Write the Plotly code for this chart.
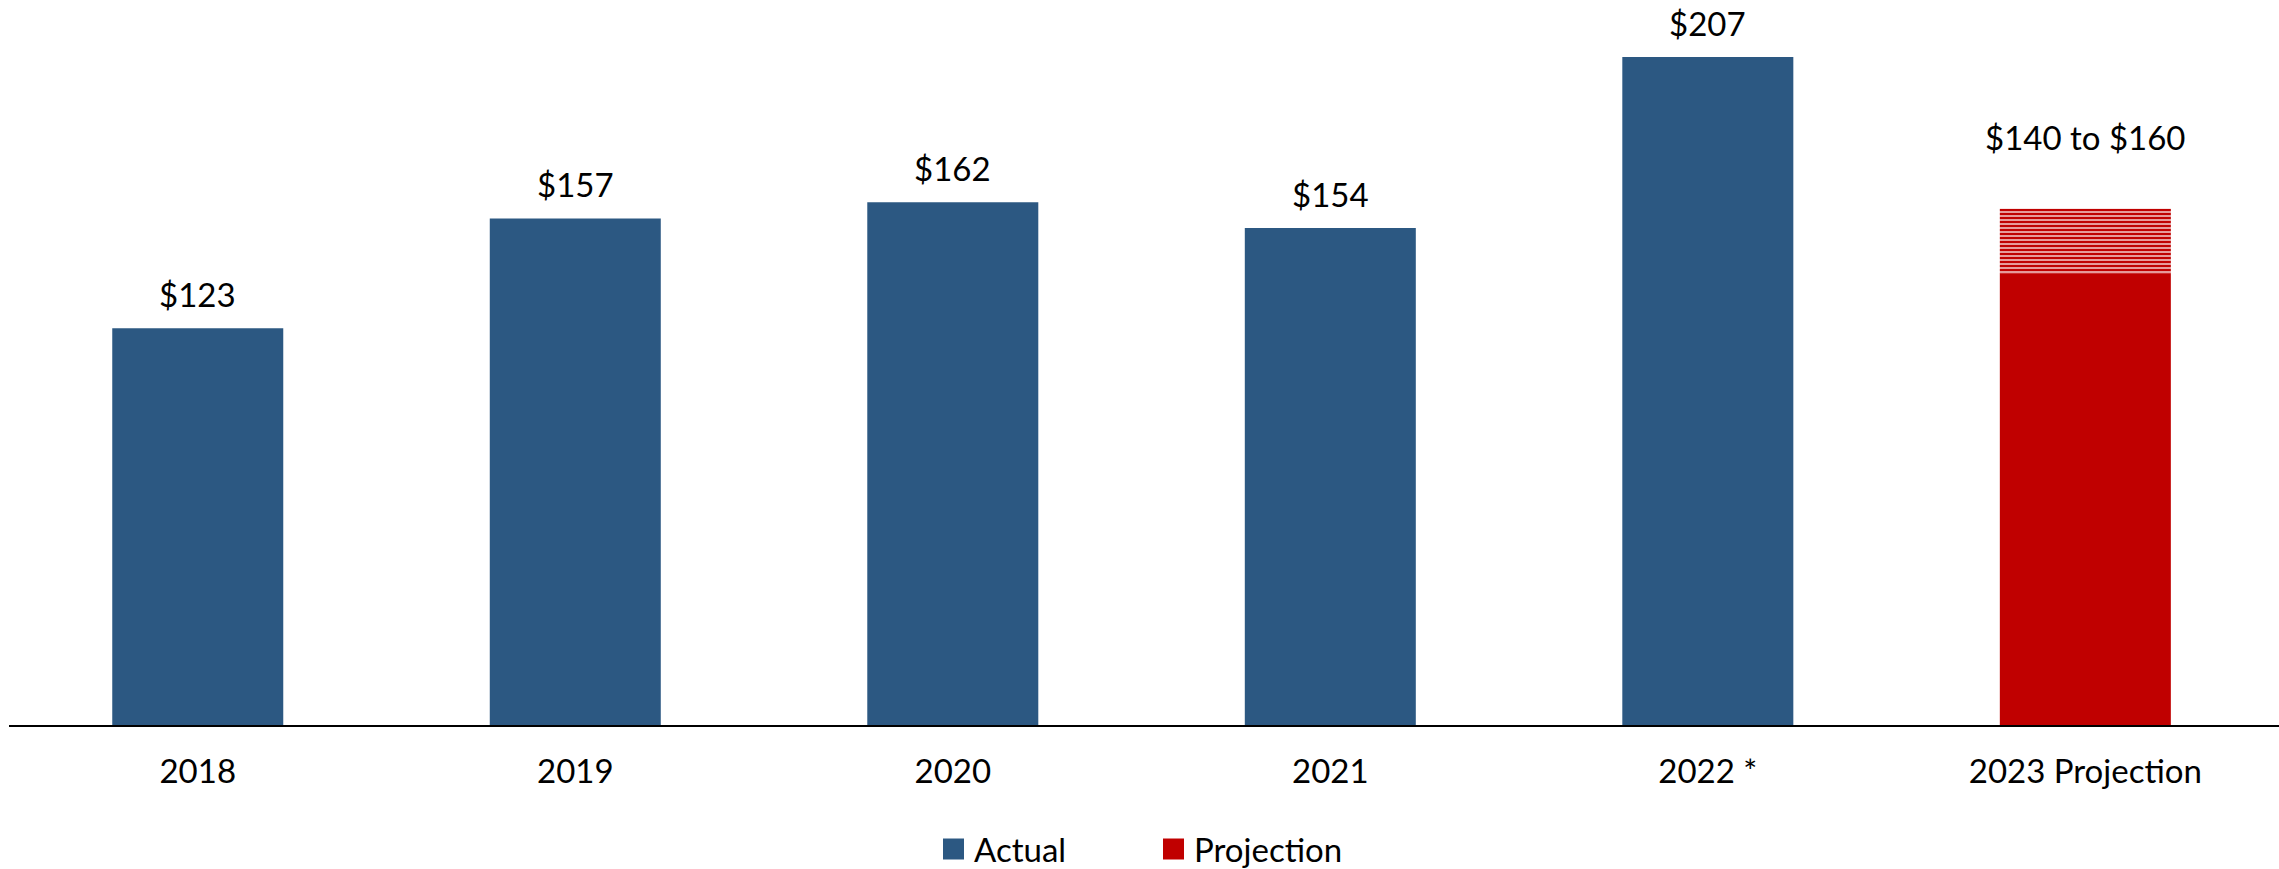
import plotly.graph_objects as go

# Annual values (in $ millions)
categories = ["2018", "2019", "2020", "2021", "2022 *", "2023 Projection"]
actual_values = [123, 157, 162, 154, 207]
projection_low = 140
projection_high = 160

BLUE = "#2C5882"
RED = "#C00000"
FONT = "Lato"
FSIZE = 33
BAR_W = 0.453

W, H = 2279, 869
M_L, M_R, M_T, M_B = 9, 0, 0, 144
plot_w = W - M_L - M_R
plot_h = H - M_T - M_B

fig = go.Figure()

# Actual bars
fig.add_trace(go.Bar(
    x=categories[:len(actual_values)], y=actual_values,
    marker=dict(color=BLUE, line=dict(width=0)),
    width=BAR_W, name="Actual", showlegend=False,
))

# Projection: solid lower bound
fig.add_trace(go.Bar(
    x=[categories[-1]], y=[projection_low],
    marker=dict(color=RED, line=dict(width=0)),
    width=BAR_W, name="Projection", showlegend=False,
))

# Projection: striped range between low and high
fig.add_trace(go.Bar(
    x=[categories[-1]], y=[projection_high - projection_low], base=[projection_low],
    marker=dict(color="white", line=dict(width=0),
                pattern=dict(shape="-", fgcolor=RED, fgopacity=1,
                             size=4, solidity=0.7, fillmode="overlay")),
    width=BAR_W, name="Projection range", showlegend=False,
))

# Value labels (category axis positions given by index)
annotations = []
for i, val in enumerate(actual_values):
    annotations.append(dict(
        x=i, y=val, text=f"${val}", showarrow=False,
        xref="x", yref="y", yanchor="bottom", yshift=12,
        font=dict(family=FONT, size=FSIZE, color="black"),
    ))
annotations.append(dict(
    x=len(categories) - 1, y=projection_high,
    text=f"${projection_low} to ${projection_high}", showarrow=False,
    xref="x", yref="y", yanchor="bottom", yshift=50,
    font=dict(family=FONT, size=FSIZE, color="black"),
))

# Legend drawn as swatches + text below the axis
legend_items = [("Actual", BLUE, 943), ("Projection", RED, 1163)]
legend_cy = 849
shapes = []
for label, color, px in legend_items:
    x0 = (px - M_L) / plot_w
    x1 = (px + 21 - M_L) / plot_w
    yc = -(legend_cy - (M_T + plot_h)) / plot_h
    dy = 10.5 / plot_h
    shapes.append(dict(type="rect", xref="paper", yref="paper",
                       x0=x0, x1=x1, y0=yc - dy, y1=yc + dy,
                       fillcolor=color, line=dict(width=0)))
    annotations.append(dict(
        x=(px + 29 - M_L) / plot_w, y=yc, xref="paper", yref="paper",
        text=label, showarrow=False, xanchor="left", yanchor="middle",
        font=dict(family=FONT, size=FSIZE, color="black"),
    ))

fig.update_layout(
    width=W, height=H,
    margin=dict(l=M_L, r=M_R, t=M_T, b=M_B, pad=0),
    paper_bgcolor="white", plot_bgcolor="white",
    barmode="overlay",
    showlegend=False,
    annotations=annotations,
    shapes=shapes,
    xaxis=dict(
        type="category", range=[-0.5, 5.513],
        showline=True, linecolor="black", linewidth=2,
        showgrid=False, zeroline=False, ticks="",
        tickfont=dict(family=FONT, size=FSIZE, color="black"),
        ticklabelstandoff=16,
    ),
    yaxis=dict(
        range=[0, 224.7], visible=False, showgrid=False, zeroline=False,
    ),
)

fig.write_html("out.html")
